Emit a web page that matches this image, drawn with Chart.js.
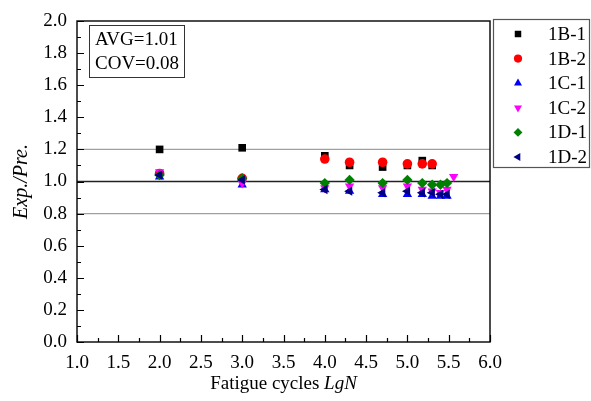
<!DOCTYPE html>
<html>
<head>
<meta charset="utf-8">
<script src="https://cdn.jsdelivr.net/npm/chart.js@4.4.1/dist/chart.umd.min.js"></script>
<style>
  body { margin: 0; background: #fff; }
  #wrap { width: 591px; height: 401px; }
</style>
</head>
<body>
<div id="wrap"><canvas id="chart"></canvas></div>
<script>
// fatigue cycles LgN per specimen, and Exp./Pre. ratio at each
const seriesNames = ['1B-1', '1B-2', '1C-1', '1C-2', '1D-1', '1D-2'];
const lgN_1B1 = [2.0, 3.0, 4.0, 4.3, 4.7, 5.0, 5.18, 5.3];
const ratio_1B1 = [1.20, 1.21, 1.16, 1.10, 1.09, 1.10, 1.13, 1.10];
const lgN_1B2 = [2.0, 3.0, 4.0, 4.3, 4.7, 5.0, 5.18, 5.3];
const ratio_1B2 = [1.05, 1.02, 1.14, 1.12, 1.12, 1.11, 1.11, 1.11];
const lgN_1C1 = [2.0, 3.0, 4.0, 4.3, 4.7, 5.0, 5.18, 5.3, 5.4, 5.48];
const ratio_1C1 = [1.03, 0.98, 0.95, 0.94, 0.92, 0.92, 0.92, 0.91, 0.91, 0.91];
const lgN_1C2 = [2.0, 3.0, 4.0, 4.3, 4.7, 5.0, 5.18, 5.3, 5.4, 5.48, 5.56];
const ratio_1C2 = [1.06, 0.99, 0.96, 0.97, 0.96, 0.97, 0.95, 0.94, 0.93, 0.95, 1.03];
const lgN_1D1 = [2.0, 3.0, 4.0, 4.3, 4.7, 5.0, 5.18, 5.3, 5.4, 5.48];
const ratio_1D1 = [1.04, 1.02, 0.99, 1.01, 0.99, 1.01, 0.99, 0.98, 0.98, 0.99];
const lgN_1D2 = [2.0, 3.0, 4.0, 4.3, 4.7, 5.0, 5.18, 5.3, 5.4, 5.48];
const ratio_1D2 = [1.04, 1.01, 0.95, 0.94, 0.93, 0.94, 0.93, 0.93, 0.92, 0.92];

// reference ratio lines
const refLevels = [1.2, 1.0, 0.8];
const refColors = ['#a0a0a0', '#222222', '#a0a0a0'];
const xRange = [1.0, 6.0];
const yRange = [0.0, 2.0];

const statLines = ['AVG=1.01', 'COV=0.08'];

const serif = "'Liberation Serif', 'Times New Roman', serif";

const markers = [
    { color: '#000000', style: 'rect', rotation: 0, radius: 5.4 },
    { color: '#ff0000', style: 'circle', rotation: 0, radius: 4.8 },
    { color: '#0000ff', style: 'triangle', rotation: 0, radius: 5.4 },
    { color: '#ff00ff', style: 'triangle', rotation: 180, radius: 5.4 },
    { color: '#008000', style: 'rectRot', rotation: 0, radius: 5.2 },
    { color: '#000080', style: 'triangle', rotation: 270, radius: 5.4 }
];

function toPoints(xs, ys) {
    return xs.map((x, i) => ({ x: x, y: ys[i] }));
}

const seriesData = [
    toPoints(lgN_1B1, ratio_1B1),
    toPoints(lgN_1B2, ratio_1B2),
    toPoints(lgN_1C1, ratio_1C1),
    toPoints(lgN_1C2, ratio_1C2),
    toPoints(lgN_1D1, ratio_1D1),
    toPoints(lgN_1D2, ratio_1D2)
];

const datasets = [];
refLevels.forEach((level, i) => {
    datasets.push({
        type: 'line',
        label: 'ref' + i,
        data: [{ x: xRange[0], y: level }, { x: xRange[1], y: level }],
        borderColor: refColors[i],
        borderWidth: 1.4,
        pointRadius: 0,
        order: 20
    });
});
seriesNames.forEach((name, i) => {
    const m = markers[i];
    datasets.push({
        label: name,
        data: seriesData[i],
        backgroundColor: m.color,
        borderColor: m.color,
        borderWidth: 0,
        pointStyle: m.style,
        rotation: m.rotation,
        pointRadius: m.radius,
        pointHoverRadius: m.radius,
        order: 10 - i
    });
});

// frame, inward ticks, stats box, x title and the boxed legend
const decorations = {
    id: 'decorations',
    afterDraw(chart) {
        const ctx = chart.ctx;
        const area = chart.chartArea;
        const xs = chart.scales.x;
        const ys = chart.scales.y;
        ctx.save();
        ctx.strokeStyle = '#000';
        ctx.lineWidth = 1.4;
        ctx.strokeRect(area.left, area.top, area.right - area.left, area.bottom - area.top);

        ctx.lineWidth = 1.2;
        ctx.beginPath();
        for (let k = 0; k <= 20; k++) {
            const v = xRange[0] + k * 0.25;
            const px = Math.round(xs.getPixelForValue(v)) + 0.5;
            const len = k % 2 === 0 ? 7 : 4;
            ctx.moveTo(px, area.bottom);
            ctx.lineTo(px, area.bottom - len);
        }
        for (let k = 0; k <= 20; k++) {
            const v = yRange[0] + k * 0.1;
            const py = Math.round(ys.getPixelForValue(v)) + 0.5;
            const len = k % 2 === 0 ? 7 : 4;
            ctx.moveTo(area.left, py);
            ctx.lineTo(area.left + len, py);
        }
        ctx.stroke();

        // stats box
        ctx.lineWidth = 1;
        ctx.strokeStyle = '#333';
        ctx.strokeRect(89.5, 25.5, 95, 52);
        ctx.fillStyle = '#000';
        ctx.font = '19px ' + serif;
        ctx.textBaseline = 'middle';
        ctx.textAlign = 'left';
        statLines.forEach((t, i) => ctx.fillText(t, 95, 40 + i * 24));

        // x axis title with italic LgN
        ctx.font = '19px ' + serif;
        const plain = 'Fatigue cycles ';
        const wPlain = ctx.measureText(plain).width;
        ctx.font = 'italic 19px ' + serif;
        const wItalic = ctx.measureText('LgN').width;
        const cx = (area.left + area.right) / 2;
        let x0 = cx - (wPlain + wItalic) / 2;
        ctx.textBaseline = 'alphabetic';
        ctx.font = '19px ' + serif;
        ctx.fillText(plain, x0, 389);
        ctx.font = 'italic 19px ' + serif;
        ctx.fillText('LgN', x0 + wPlain, 389);

        // legend
        ctx.strokeStyle = '#555';
        ctx.lineWidth = 1.2;
        ctx.strokeRect(493.5, 19.5, 96, 148);
        ctx.font = '19px ' + serif;
        ctx.textBaseline = 'middle';
        seriesNames.forEach((name, i) => {
            const y = 34 + i * 24.6;
            const m = markers[i];
            ctx.fillStyle = m.color;
            ctx.strokeStyle = m.color;
            Chart.helpers.drawPoint(ctx, {
                pointStyle: m.style,
                rotation: m.rotation,
                radius: m.radius * 0.85,
                borderWidth: 0
            }, 518, y);
            ctx.fillStyle = '#000';
            ctx.fillText(name, 548, y + 1);
        });
        ctx.restore();
    }
};

const ctx = document.getElementById('chart').getContext('2d');
new Chart(ctx, {
    type: 'scatter',
    data: { datasets: datasets },
    options: {
        responsive: true,
        maintainAspectRatio: false,
        animation: false,
        layout: { padding: { left: 0, right: 101, top: 21, bottom: 0 } },
        plugins: {
            legend: { display: false },
            tooltip: { enabled: false }
        },
        scales: {
            x: {
                type: 'linear',
                min: xRange[0],
                max: xRange[1],
                grid: { display: false },
                border: { display: false },
                ticks: {
                    stepSize: 0.5,
                    color: '#000',
                    font: { family: serif, size: 19 },
                    padding: 2,
                    maxRotation: 0,
                    callback: v => v.toFixed(1)
                },
                afterFit: scale => { scale.height = 59; }
            },
            y: {
                min: yRange[0],
                max: yRange[1],
                grid: { display: false },
                border: { display: false },
                ticks: {
                    stepSize: 0.2,
                    color: '#000',
                    font: { family: serif, size: 19 },
                    padding: 2,
                    callback: v => v.toFixed(1)
                },
                title: {
                    display: true,
                    text: 'Exp./Pre.',
                    color: '#000',
                    font: { family: serif, size: 20, style: 'italic' },
                    padding: { top: 10, bottom: 0 }
                },
                afterFit: scale => { scale.width = 77; }
            }
        }
    },
    plugins: [decorations]
});
</script>
</body>
</html>
